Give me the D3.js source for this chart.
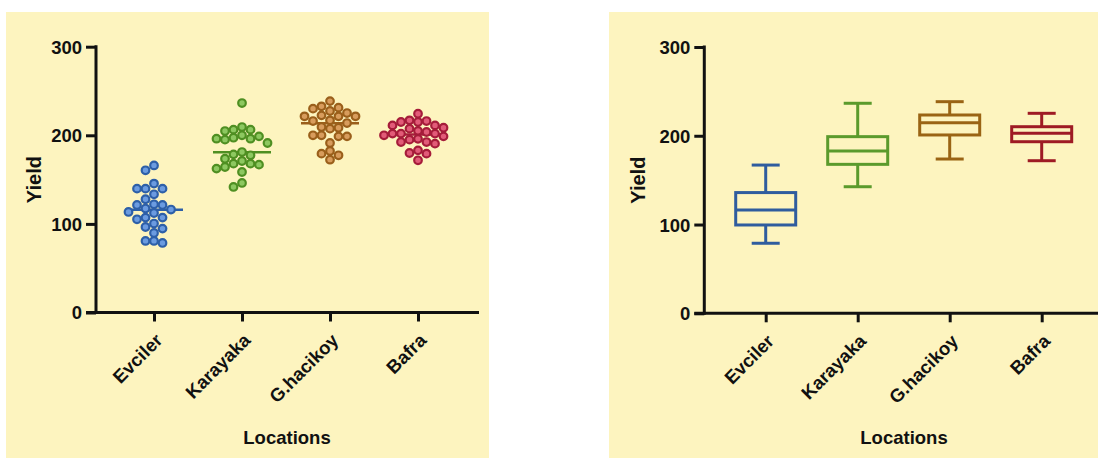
<!DOCTYPE html>
<html><head><meta charset="utf-8">
<script src="https://cdn.jsdelivr.net/npm/d3@7"></script>
<style>
html,body{margin:0;padding:0;background:#fff;}
svg text{font-family:"Liberation Sans",Arial,sans-serif;font-weight:bold;fill:#111;}
</style></head>
<body><svg id="c" width="1098" height="459"></svg>
<script>
const categories = ["Evciler","Karayaka","G.hacikoy","Bafra"];
const yTicks = [0,100,200,300];
const evciler = [160.5,166,145.5,133.4,139.8,139.8,139.8,127.8,116.2,121.4,121.4,117.3,122.1,113.5,112.3,105.2,107.1,107.1,100.4,94.7,96.5,89.8,78.5,80.8,80.8];
const karayaka = [236.4,200,204.8,206.4,206.4,209.3,195.1,197.3,191.3,196.2,198.8,196.2,178.5,173.6,171,177.4,181.1,166.9,162.4,164.2,168,168,158.6,141.7,146.2];
const ghacikoy = [238.6,232.7,227.4,225.1,221.4,221.4,222.5,231.2,230.1,221.4,216.9,213.8,216.1,208.6,209.3,207.5,198.8,200,200,198.8,191.3,182.2,177.4,179.3,172.5];
const bafra = [224.4,216.9,207.5,208.6,198.8,201.9,200,201.9,203.7,211.2,215,216.1,215,211.2,201.9,192.4,190.6,192.4,195.1,183,180,179.3,171.8,205,196];
const seriesValues = [evciler,karayaka,ghacikoy,bafra];
const medians = [116,181,213.5,201];
// box stats: [min, q1, median, q3, max]
const boxStats = [
  [78.9, 99.5, 116.4, 136, 167],
  [142.6, 167.8, 182.8, 199, 236.6],
  [173.8, 200.9, 214.7, 223.4, 238.4],
  [171.9, 193.3, 202.8, 210.2, 225.3]
];
const dotFill = ["#6b9be0","#8dc860","#d89c5c","#e25b78"];
const dotStroke = ["#2d5fa8","#4f8f22","#9a5f1b","#a51c3a"];
const boxColor = ["#2f5c9e","#5b9a2c","#9a6414","#9e1b24"];

const svg = d3.select("#c");
const BG = "#fdf4bf";

function panel(opt){
  svg.append("rect").attr("x",opt.bg[0]).attr("y",opt.bg[1]).attr("width",opt.bg[2]).attr("height",opt.bg[3]).attr("fill",BG);
  const g = svg.append("g");
  const y = d3.scaleLinear().domain([0,300]).range([opt.y0, opt.y300]);
  const x = d3.scalePoint().domain(categories).range([opt.x1, opt.x4]);
  const ya = g.append("g").attr("transform",`translate(${opt.ax},0)`)
    .call(d3.axisLeft(y).tickValues(yTicks).tickSize(10).tickPadding(4));
  ya.select(".domain").remove();
  ya.selectAll(".tick line").attr("stroke","#111").attr("stroke-width",3);
  ya.selectAll(".tick text").style("font-size","18.5px").attr("fill","#111").attr("dy","0.35em");
  g.append("line").attr("x1",opt.ax).attr("x2",opt.ax).attr("y1",y(300)-1.5).attr("y2",y(0)+1.5).attr("stroke","#111").attr("stroke-width",3);
  const xa = g.append("g").attr("transform",`translate(0,${y(0)})`)
    .call(d3.axisBottom(x).tickSize(9).tickSizeOuter(0));
  xa.select(".domain").remove();
  xa.selectAll(".tick line").attr("stroke","#111").attr("stroke-width",3);
  xa.selectAll(".tick text").style("font-size","18.5px").attr("fill","#111")
    .attr("text-anchor","end").attr("dy",null).attr("y",null)
    .attr("transform","translate(9,29) rotate(-45)");
  g.append("line").attr("x1",opt.ax-10).attr("x2",opt.xend).attr("y1",y(0)).attr("y2",y(0)).attr("stroke","#111").attr("stroke-width",3);
  g.append("text").attr("transform",`translate(${opt.ylabX},${(y(0)+y(300))/2}) rotate(-90)`)
    .attr("text-anchor","middle").style("font-size","20px").text("Yield");
  g.append("text").attr("x",opt.xlabX).attr("y",444).attr("text-anchor","middle").style("font-size","18.5px").text("Locations");
  return {g,x,y};
}

// ---- Left: scatter with median ----
const L = panel({bg:[6,12,483,446], y0:312.5, y300:46.7, x1:154, x4:418, ax:96, xend:479, ylabX:41, xlabX:287});
const R = 3.8, DH = 8.4, DV = 7.8;
categories.forEach((c,i)=>{
  const cx = L.x(c);
  const vals = seriesValues[i].slice().sort((a,b)=>b-a);
  const placed = [];
  vals.forEach(v=>{
    const py = L.y(v);
    let off = 0;
    for(let k=0;k<400;k++){
      const cand = (k%2===0?1:-1)*Math.ceil(k/2)*0.5;
      const ok = placed.every(p=>Math.abs(p.y-py)>=DV || Math.abs(p.x-cand)>=DH);
      if(ok){off=cand;break;}
    }
    placed.push({x:off,y:py});
  });
  L.g.append("line").attr("x1",cx-29).attr("x2",cx+29).attr("y1",L.y(medians[i])).attr("y2",L.y(medians[i]))
    .attr("stroke",dotStroke[i]).attr("stroke-width",2.5);
  L.g.selectAll(null).data(placed).enter().append("circle")
    .attr("cx",d=>cx+d.x).attr("cy",d=>d.y).attr("r",R)
    .attr("fill",dotFill[i]).attr("stroke",dotStroke[i]).attr("stroke-width",2.2);
});

// ---- Right: box plot ----
const P = panel({bg:[609,12,489,446], y0:313.3, y300:47, x1:765.7, x4:1041.7, ax:704.3, xend:1098, ylabX:645, xlabX:904});
categories.forEach((c,i)=>{
  const cx = P.x(c), s = boxStats[i], col = boxColor[i];
  const bw = 30, cw = 14;
  const gg = P.g.append("g").attr("stroke",col).attr("stroke-width",3).attr("fill","none");
  gg.append("line").attr("x1",cx).attr("x2",cx).attr("y1",P.y(s[0])).attr("y2",P.y(s[1]));
  gg.append("line").attr("x1",cx).attr("x2",cx).attr("y1",P.y(s[3])).attr("y2",P.y(s[4]));
  gg.append("line").attr("x1",cx-cw).attr("x2",cx+cw).attr("y1",P.y(s[0])).attr("y2",P.y(s[0]));
  gg.append("line").attr("x1",cx-cw).attr("x2",cx+cw).attr("y1",P.y(s[4])).attr("y2",P.y(s[4]));
  gg.append("rect").attr("x",cx-bw).attr("width",2*bw).attr("y",P.y(s[3])).attr("height",P.y(s[1])-P.y(s[3]));
  gg.append("line").attr("x1",cx-bw).attr("x2",cx+bw).attr("y1",P.y(s[2])).attr("y2",P.y(s[2]));
});
</script></body></html>
